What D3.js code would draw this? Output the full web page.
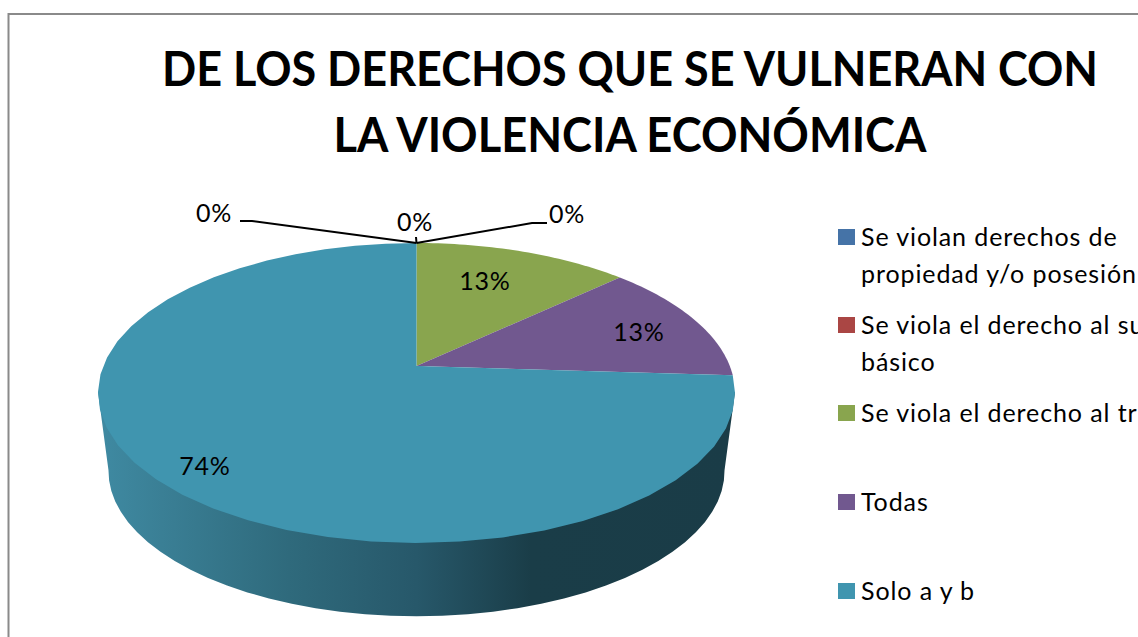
<!DOCTYPE html>
<html><head><meta charset="utf-8">
<script src="https://cdn.jsdelivr.net/npm/d3@7/dist/d3.min.js"></script>
<style>html,body{margin:0;padding:0;background:#fff;overflow:hidden}svg{display:block}text{font-family:Lato,"Open Sans",sans-serif;fill:#000}</style>
</head><body><svg id="c" width="1138" height="637"></svg>
<script>
const titleLines = ["DE LOS DERECHOS QUE SE VULNERAN CON", "LA VIOLENCIA ECONÓMICA"];
const titleWidths = [936, 593];
const categories = [["Se violan derechos de","propiedad y/o posesión"],["Se viola el derecho al su","básico"],["Se viola el derecho al tr"],["Todas"],["Solo a y b"]];
const values = [0, 0, 13, 13, 74, 0];
const colors = ["#4573A7", "#AA4644", "#89A54E", "#71588F", "#4095AF", "#DB843D"];
const legendY = [237, 325, 413, 502, 591];

const svg = d3.select("#c");
const defs = svg.append("defs");
const grad = defs.append("linearGradient").attr("id","side").attr("gradientUnits","userSpaceOnUse")
  .attr("x1",98).attr("x2",735).attr("y1",0).attr("y2",0);
[[0,"#3f8aa2"],[0.1,"#3a7f95"],[0.3,"#2f6a7c"],[0.5,"#27586a"],[0.68,"#1a3d48"],[1,"#1a3c47"]]
  .forEach(s=>grad.append("stop").attr("offset",s[0]).attr("stop-color",s[1]));

// frame
svg.append("path").attr("d","M8.5,637V14H1138").attr("fill","none").attr("stroke","#8a8a8a").attr("stroke-width",2);

// title
svg.selectAll("text.t").data(titleLines).join("text").attr("class","t")
  .attr("x",630).attr("y",(d,i)=>86+i*66).attr("text-anchor","middle")
  .attr("font-size",47).attr("font-weight",700)
  .attr("textLength",(d,i)=>titleWidths[i]).attr("lengthAdjust","spacingAndGlyphs").text(d=>d);

// perspective projection of the pie disc
const C = -0.18;
const project = (cx,cy,A,B) => a => {
  const u=Math.sin(a), v=-Math.cos(a), w=1+C*v;
  return [cx+A*u/w, cy+B*v/w];
};
const topP = project(416.5,366,313.3,145.14);
const botP = project(416.5,445,303,140.4);
const centre = [416.5,366];
const sample = (f,a0,a1)=>d3.range(0,41).map(i=>f(a0+(a1-a0)*i/40));
const line = d3.line();

const pie = d3.pie().sort(null).value(d=>d)(values);
const fr0 = 100*Math.PI/180, fr1 = 260*Math.PI/180;

// side wall (runs under the top face so no seam shows)
pie.forEach((s,i)=>{
  const a0=Math.max(s.startAngle,fr0), a1=Math.min(s.endAngle,fr1);
  if(a1<=a0) return;
  const pts=[centre,topP(a0)].concat(sample(botP,a0,a1),[topP(a1)]);
  svg.append("path").attr("d",line(pts)+"Z").attr("fill","url(#side)");
});
// top faces
pie.forEach((s,i)=>{
  if(s.endAngle<=s.startAngle) return;
  const pts=[centre].concat(sample(topP,s.startAngle,s.endAngle));
  svg.append("path").attr("d",line(pts)+"Z").attr("fill",colors[i]);
});

// leaders
const apex=topP(0);
[[[240,221],[252,221],apex],[[416,237],apex],[[547,223],[532,223],apex]].forEach(p=>{
  svg.append("path").attr("d",line(p)).attr("fill","none").attr("stroke","#000").attr("stroke-width",2);
});

// data labels, in series order
const labelPos=[[415,231],[567,223],[485,290],[639,341],[205,475],[214,222]];
svg.selectAll("text.l").data(values).join("text").attr("class","l")
  .attr("x",(d,i)=>labelPos[i][0]).attr("y",(d,i)=>labelPos[i][1]).attr("text-anchor","middle")
  .attr("font-size",25).attr("letter-spacing",0.8).text(d=>d+"%");

// legend
categories.forEach((c,i)=>{
  svg.append("rect").attr("x",838).attr("y",legendY[i]-8).attr("width",17).attr("height",16).attr("fill",colors[i]);
  c.forEach((t,j)=>svg.append("text").attr("x",861).attr("y",legendY[i]+9+j*37).attr("font-size",25).attr("letter-spacing",0.9).text(t));
});
</script></body></html>
